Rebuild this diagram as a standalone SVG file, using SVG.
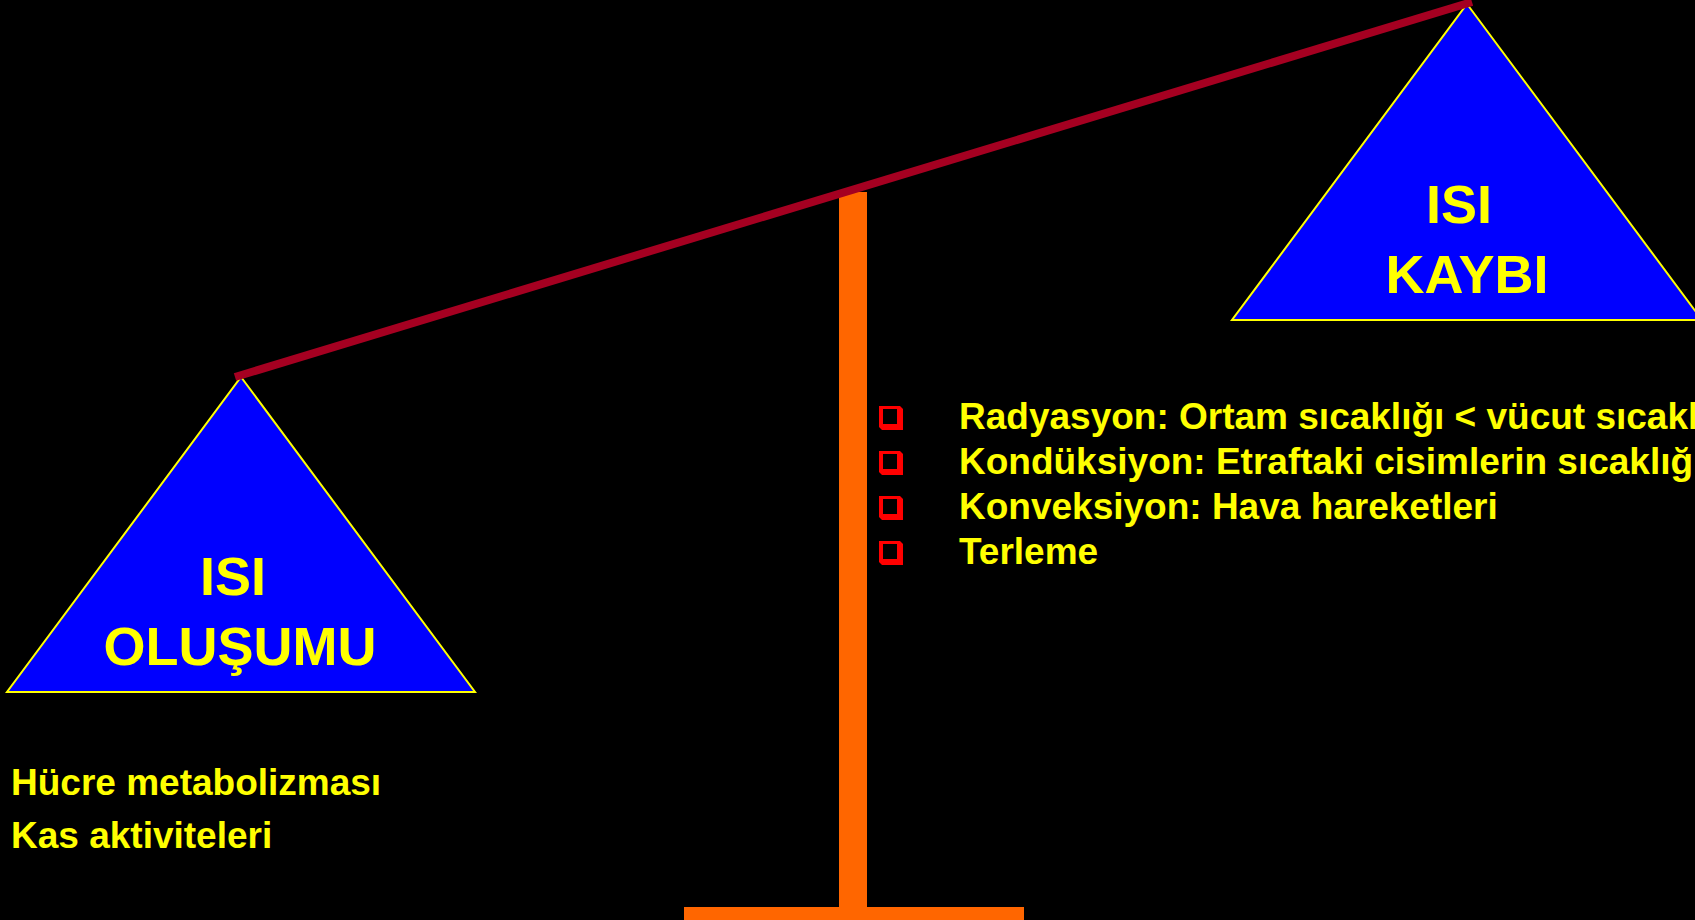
<svg xmlns="http://www.w3.org/2000/svg" width="1695" height="920" viewBox="0 0 1695 920">
<style>
.tri{fill:#0000FF;stroke:#FFFF00;stroke-width:2;stroke-linejoin:miter}
.big{font-family:"Liberation Sans",Arial,sans-serif;font-weight:bold;font-size:54px;fill:#FFFF00;text-anchor:middle}
.bul{font-family:"Liberation Sans",Arial,sans-serif;font-weight:bold;font-size:37px;fill:#FFFF00}
.low{font-family:"Liberation Sans",Arial,sans-serif;font-weight:bold;font-size:37px;fill:#FFFF00}
</style>
<defs>
<g id="box">
<polygon points="0,0 21,0 24,3 24,24 3,24 0,21" fill="#FF0000"/>
<rect x="4" y="3" width="14" height="15" fill="#000"/>
</g>
</defs>
<rect x="0" y="0" width="1695" height="920" fill="#000"/>
<g id="stand">
<rect x="839" y="192" width="28" height="728" fill="#FF6600"/>
<rect x="684" y="907" width="340" height="13" fill="#FF6600"/>
</g>
<g id="node-isi-olusumu">
<polygon class="tri" points="241,377 475,692 7,692"/>
<text class="big" x="233" y="595">ISI</text>
<text class="big" x="240" y="665">OLUŞUMU</text>
</g>
<g id="node-isi-kaybi">
<polygon class="tri" points="1467,4 1702,320 1232,320"/>
<text class="big" x="1459" y="223">ISI</text>
<text class="big" x="1467" y="293">KAYBI</text>
</g>
<g id="connectors">
<line x1="235" y1="377" x2="1472" y2="2" stroke="#A50021" stroke-width="8"/>
</g>
<g id="loss-list">
<use href="#box" x="879" y="406"/>
<use href="#box" x="879" y="451"/>
<use href="#box" x="879" y="496"/>
<use href="#box" x="879" y="541"/>
<text class="bul" x="959" y="429">Radyasyon: Ortam sıcaklığı &lt; vücut sıcaklığı</text>
<text class="bul" x="959" y="474">Kondüksiyon: Etraftaki cisimlerin sıcaklığı</text>
<text class="bul" x="959" y="519">Konveksiyon: Hava hareketleri</text>
<text class="bul" x="959" y="564">Terleme</text>
</g>
<g id="gain-list">
<text class="low" x="11" y="795">Hücre metabolizması</text>
<text class="low" x="11" y="848">Kas aktiviteleri</text>
</g>
</svg>
